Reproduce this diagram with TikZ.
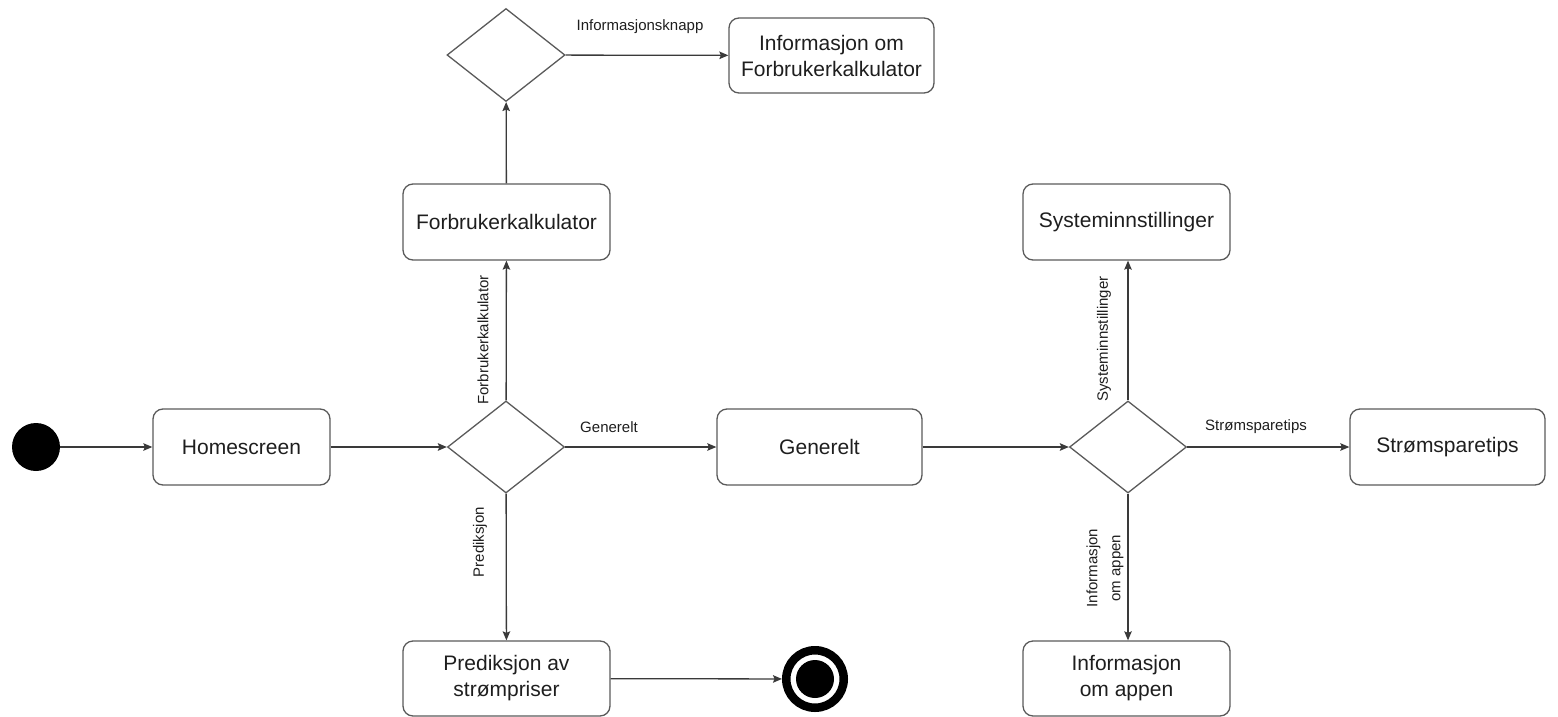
\documentclass[tikz,border=0pt]{standalone}
\usepackage{fontspec}
\setmainfont{Liberation Sans}
\usetikzlibrary{shapes.geometric,arrows.meta}
\definecolor{boxline}{HTML}{5A5A5A}
\definecolor{edgeline}{HTML}{3A3A3A}
\definecolor{txt}{HTML}{1E1E1E}
\begin{document}
\begin{tikzpicture}[x=1pt,y=-1pt,
  state/.style={draw=boxline, line width=1.3pt, rounded corners=10pt, inner sep=0pt,
    minimum width=207pt, minimum height=76pt, align=center, text=txt,
    font=\fontsize{21}{26}\selectfont},
  choice/.style={draw=boxline, line width=1.3pt, diamond, inner sep=0pt,
    minimum width=117pt, minimum height=92pt},
  lbl/.style={text=txt, inner sep=0pt, align=center, font=\fontsize{15}{17}\selectfont},
  flow/.style={draw=edgeline, line width=1.3pt,
    -{Stealth[length=9pt,width=7.5pt,inset=1.5pt]}}]
\useasboundingbox (0,0) rectangle (1558,717);

% initial and final states
\node[circle, fill=black, minimum size=48pt, inner sep=0pt] (start) at (36,447) {};
\node[circle, draw=black, line width=8.5pt, minimum size=57.5pt, inner sep=0pt] (stop) at (815,679) {};
\fill[black] (stop.center) circle (19);

% activities
\node[state, minimum width=177pt] (home) at (241.5,447) {Homescreen};
\node[state] (fkalk) at (506.5,222) {Forbrukerkalkulator};
\node[state, minimum width=205pt, minimum height=75pt] (infofk) at (831.5,55.5) {Informasjon om\\Forbrukerkalkulator};
\node[state, minimum height=75pt] (pred) at (506.5,678.5) {Prediksjon av\\strømpriser};
\node[state, minimum width=205pt] (gen) at (819.5,447) {Generelt};
\node[state] (sys) at (1126.5,222) {Systeminnstillinger};
\node[state, minimum height=75pt] (infoapp) at (1126.5,678.5) {Informasjon\\om appen};
\node[state, minimum width=195pt] (tips) at (1447.5,447) {Strømsparetips};

% decisions
\node[choice] (dmain) at (506,447) {};
\node[choice, minimum width=118pt, minimum height=93pt] (dinfo) at (506,55) {};
\node[choice] (dgen) at (1128,447) {};

% transitions
\draw[flow] (start) -- (home);
\draw[flow] (home) -- (dmain);
\draw[flow] (dmain) -- (fkalk);
\draw[flow] (fkalk) -- (dinfo);
\draw[flow] (dinfo) -- (infofk);
\draw[flow] (dmain) -- (gen);
\draw[flow] (dmain) -- (pred);
\draw[flow] (pred) -- (stop);
\draw[flow] (gen) -- (dgen);
\draw[flow] (dgen.north) -- (dgen.north |- sys.south);
\draw[flow] (dgen) -- (tips);
\draw[flow] (dgen.south) -- (dgen.south |- infoapp.north);

% transition labels
\node[lbl] (lknapp) at (640,27) {Informasjonsknapp};
\node[lbl] (lgen) at (609,427) {Generelt};
\node[lbl, rotate=90] (lfk) at (483,340) {Forbrukerkalkulator};
\node[lbl, rotate=90] (lpred) at (480,542) {Prediksjon};
\node[lbl, rotate=90] (lsys) at (1104,339) {Systeminnstillinger};
\node[lbl] (ltips) at (1256,427) {Strømsparetips};
\node[lbl, rotate=90, font=\fontsize{15}{23}\selectfont] (lapp) at (1105,568) {Informasjon\\om appen};
\end{tikzpicture}
\end{document}
